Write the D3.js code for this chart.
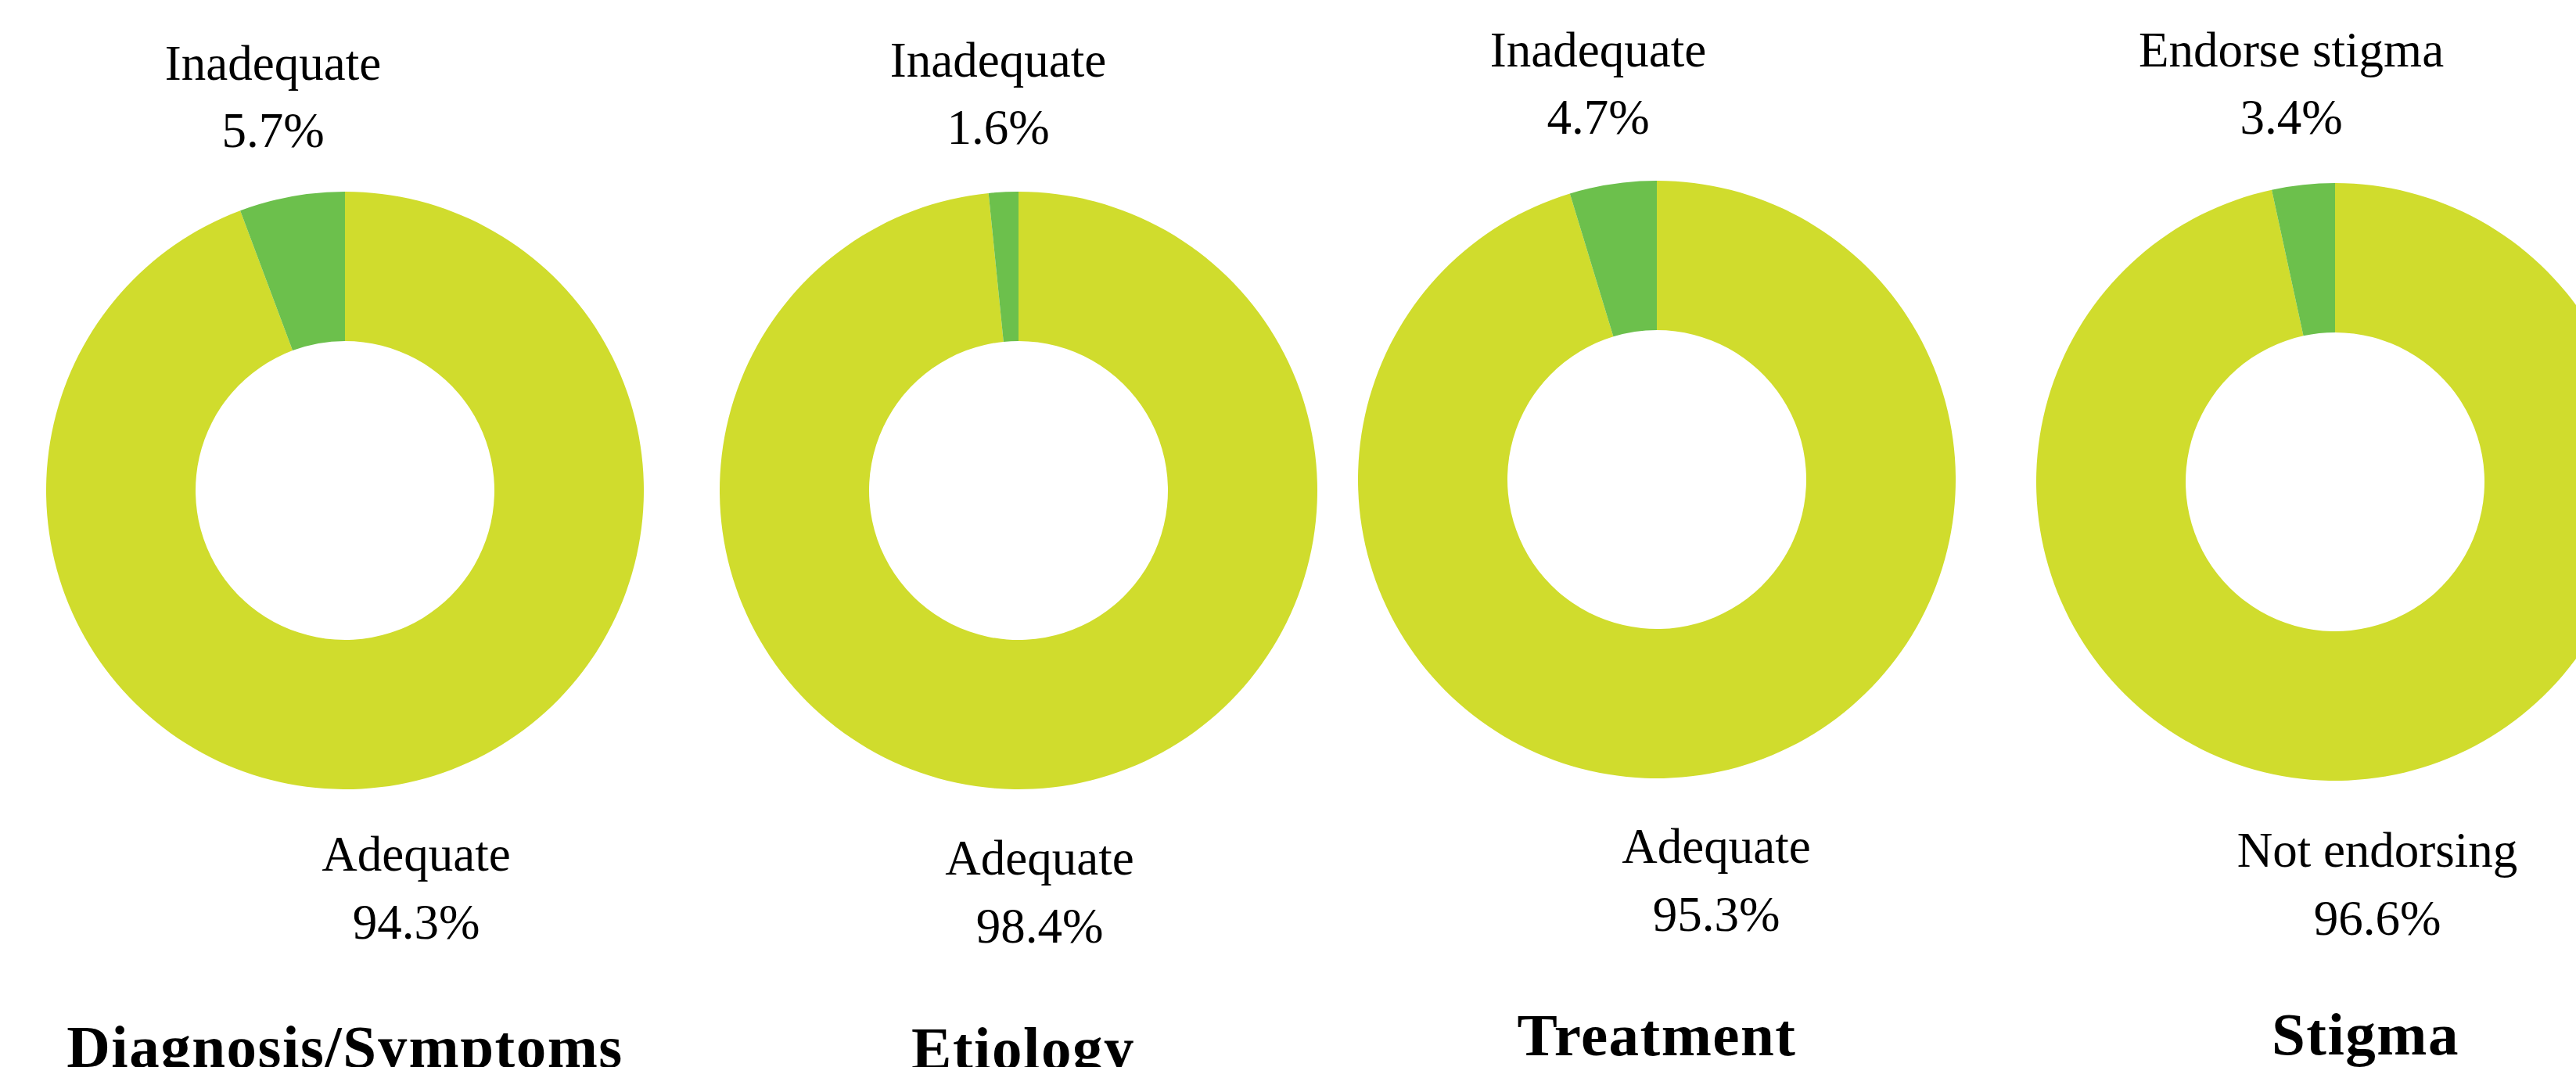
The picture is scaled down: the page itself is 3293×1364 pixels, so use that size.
<!DOCTYPE html>
<meta charset="utf-8">
<style>
    body { margin: 0; background: #fff; overflow: hidden; }
    text { font-family: "Liberation Serif", "Times New Roman", serif; fill: #000; }
</style>
<div id="donuts"></div>
<script src="https://d3js.org/d3.v7.min.js"></script>
<script>
    // chart values
    var topics = ["Diagnosis/Symptoms", "Etiology", "Treatment", "Stigma"];
    var majorLabels = ["Adequate", "Adequate", "Adequate", "Not endorsing"];
    var minorLabels = ["Inadequate", "Inadequate", "Inadequate", "Endorse stigma"];
    var majorValues = [94.3, 98.4, 95.3, 96.6];
    var minorValues = [5.7, 1.6, 4.7, 3.4];

    // panel layout (centre, label offsets, title baseline)
    var panels = [
        {cx: 441,  cy: 627, topDx: -92, topY: 102, botDx: 91, botY: 1113, titleDx: 0,  titleY: 1364},
        {cx: 1302, cy: 627, topDx: -26, topY: 98,  botDx: 27, botY: 1118, titleDx: 6,  titleY: 1366},
        {cx: 2118, cy: 613, topDx: -75, topY: 85,  botDx: 76, botY: 1103, titleDx: 0,  titleY: 1349},
        {cx: 2985, cy: 616, topDx: -56, topY: 85,  botDx: 54, botY: 1108, titleDx: 39, titleY: 1348}
    ];

    var width = 3293, height = 1364,
        outerR = 382, innerR = 191;

    var color = d3.scaleOrdinal()
        .domain(["major", "minor"])
        .range(["#d0dc2d", "#6cc04c"]);

    var svg = d3.select("#donuts").append("svg")
        .attr("width", width)
        .attr("height", height);

    var pie = d3.pie()
        .sort(null)
        .value(function(d) { return d.value; });

    var arc = d3.arc()
        .innerRadius(innerR)
        .outerRadius(outerR);

    topics.forEach(function(topic, i) {
        var p = panels[i];
        var slices = [
            {key: "major", value: majorValues[i]},
            {key: "minor", value: minorValues[i]}
        ];

        var g = svg.append("g")
            .attr("transform", "translate(" + p.cx + "," + p.cy + ")");

        g.selectAll("path")
            .data(pie(slices))
            .enter()
            .append("path")
                .attr("d", arc)
                .style("fill", function(d) { return color(d.data.key); });

        // small slice label, above
        svg.append("text")
            .attr("x", p.cx + p.topDx)
            .attr("y", p.topY)
            .attr("text-anchor", "middle")
            .style("font-size", "63px")
            .text(minorLabels[i]);
        svg.append("text")
            .attr("x", p.cx + p.topDx)
            .attr("y", p.topY + 86)
            .attr("text-anchor", "middle")
            .style("font-size", "63px")
            .text(minorValues[i].toFixed(1) + "%");

        // large slice label, below
        svg.append("text")
            .attr("x", p.cx + p.botDx)
            .attr("y", p.botY)
            .attr("text-anchor", "middle")
            .style("font-size", "63px")
            .text(majorLabels[i]);
        svg.append("text")
            .attr("x", p.cx + p.botDx)
            .attr("y", p.botY + 87)
            .attr("text-anchor", "middle")
            .style("font-size", "63px")
            .text(majorValues[i].toFixed(1) + "%");

        // panel title
        svg.append("text")
            .attr("x", p.cx + p.titleDx)
            .attr("y", p.titleY)
            .attr("text-anchor", "middle")
            .style("font-size", "77px")
            .style("font-weight", "bold")
            .style("letter-spacing", "1.5px")
            .text(topic);
    });
</script>
